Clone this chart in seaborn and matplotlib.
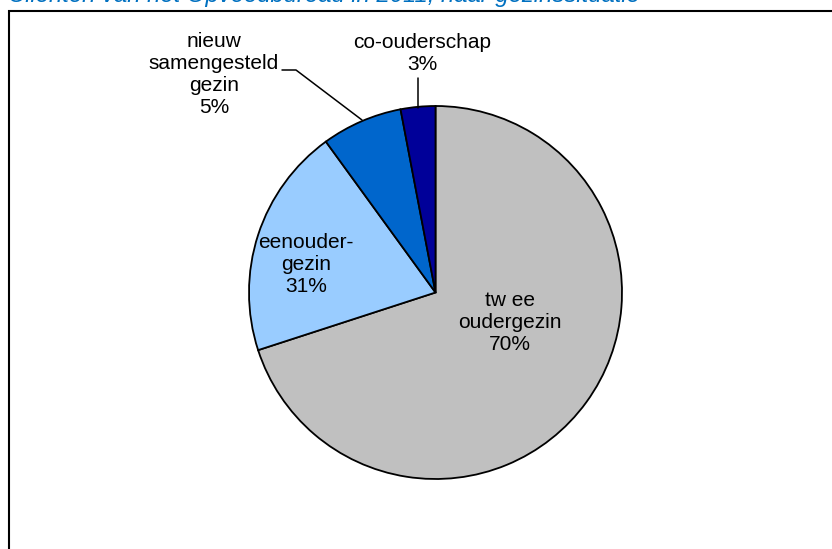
import matplotlib
matplotlib.use("Agg")
import matplotlib.pyplot as plt
import seaborn as sns
from matplotlib.patches import Rectangle

# gezinssituatie, clockwise from the top
categories = ["twee oudergezin", "eenoudergezin", "nieuw samengesteld gezin", "co-ouderschap"]
shares = [70, 20, 7, 3]          # slice sizes as drawn
pct_labels = ["70%", "31%", "5%", "3%"]   # percentages as printed on the chart
label_text = ["tw ee\noudergezin", "eenouder-\ngezin", "nieuw\nsamengesteld\ngezin", "co-ouderschap"]
colors = ["#C0C0C0", "#99CCFF", "#0066CC", "#000099"]

sns.set_theme(style="white")
plt.rcParams["font.family"] = ["Liberation Sans", "DejaVu Sans"]

W, H = 832, 549
fig = plt.figure(figsize=(W / 100, H / 100), dpi=100)

# frame around the chart area (runs off the right and bottom edge)
fig.patches.append(Rectangle((9 / W, -0.05), 1.2, 1.05 - 10.5 / H, transform=fig.transFigure,
                             fill=False, edgecolor="black", linewidth=1.5))

# title, mostly clipped at the top of the image
fig.text(8 / W, 1 - 2 / H, "Cliënten van het Opvoedbureau in 2011, naar gezinssituatie",
         color="#0070C0", style="italic", fontsize=17.2, ha="left", va="baseline")

cx, cy, r = 435.5, 292.5, 186.5
ax = fig.add_axes([(cx - r) / W, (H - cy - r) / H, 2 * r / W, 2 * r / H])
wedges, _ = ax.pie(shares, colors=colors, startangle=90, counterclock=False, radius=1,
                   wedgeprops=dict(edgecolor="black", linewidth=1.3))
ax.set_xlim(-1, 1)
ax.set_ylim(-1, 1)
ax.set_aspect("equal")
ax.axis("off")


def px(x, y):
    return ((x - cx) / r, (cy - y) / r)


fs = 15
kw = dict(ha="center", va="center", fontsize=fs, color="black", linespacing=1.2, clip_on=False)
ax.text(*px(510, 322), label_text[0] + "\n" + pct_labels[0], **kw)
ax.text(*px(306, 265), label_text[1] + "\n" + pct_labels[1], **kw)
ax.text(*px(214, 75), label_text[2] + "\n" + pct_labels[2], **kw)
ax.text(*px(422, 53), label_text[3] + "\n" + pct_labels[3], **kw)

# leader lines
lx, ly = zip(px(282, 70), px(296, 70), px(362, 120))
ax.plot(lx, ly, color="black", linewidth=1.1, clip_on=False)
lx, ly = zip(px(418, 78), px(418, 108))
ax.plot(lx, ly, color="black", linewidth=1.1, clip_on=False)

fig.savefig("out.png", dpi=100)
